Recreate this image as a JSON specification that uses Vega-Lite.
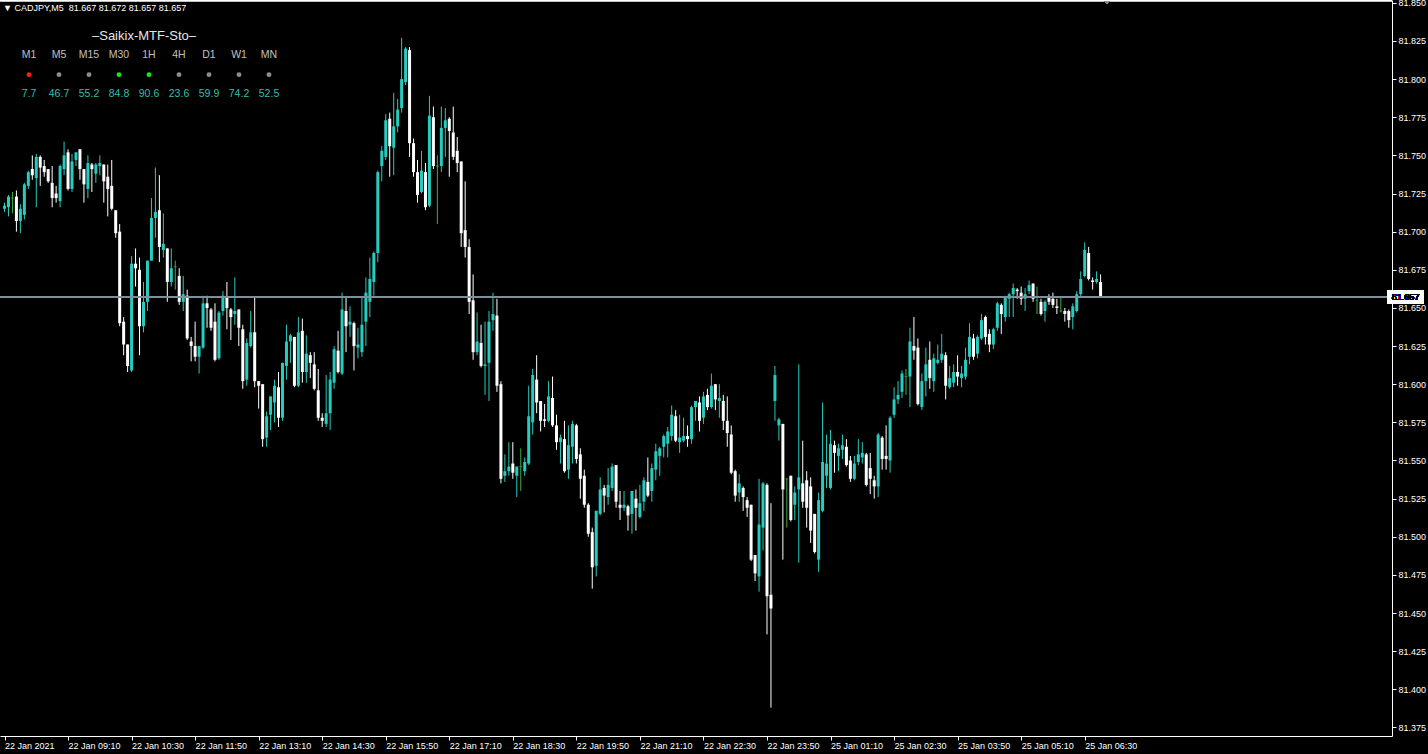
{
"$schema":"https://vega.github.io/schema/vega-lite/v6.json",
"width":1392,"height":736,"autosize":{"type":"none"},"padding":{"left":0,"top":0,"right":36,"bottom":18},
"background":"#000000","view":{"stroke":null},
"config":{"font":"Liberation Sans","axis":{"grid":false,"labelOverlap":false,"labelSeparation":0}},
"title":{"text":"▼ CADJPY,M5\u00a0\u00a081.667 81.672 81.657 81.657","anchor":"start","frame":"group","orient":"top","offset":-14,"dx":3,"fontSize":9,"fontWeight":"normal","color":"#ffffff","font":"Liberation Sans"},
"datasets":{
"candles":[
{"i":0,"o":81.715,"h":81.719,"l":81.713,"c":81.717},{"i":1,"o":81.716,"h":81.724,"l":81.710,"c":81.723},{"i":2,"o":81.722,"h":81.726,"l":81.712,"c":81.722},{"i":3,"o":81.723,"h":81.727,"l":81.700,"c":81.707},{"i":4,"o":81.707,"h":81.718,"l":81.699,"c":81.715},{"i":5,"o":81.711,"h":81.732,"l":81.708,"c":81.731},{"i":6,"o":81.730,"h":81.740,"l":81.728,"c":81.739},{"i":7,"o":81.741,"h":81.750,"l":81.734,"c":81.737},{"i":8,"o":81.735,"h":81.751,"l":81.716,"c":81.749},{"i":9,"o":81.749,"h":81.750,"l":81.730,"c":81.742},
{"i":10,"o":81.743,"h":81.747,"l":81.736,"c":81.739},{"i":11,"o":81.741,"h":81.741,"l":81.732,"c":81.733},{"i":12,"o":81.732,"h":81.743,"l":81.716,"c":81.722},{"i":13,"o":81.725,"h":81.730,"l":81.719,"c":81.722},{"i":14,"o":81.720,"h":81.744,"l":81.716,"c":81.743},{"i":15,"o":81.741,"h":81.759,"l":81.737,"c":81.750},{"i":16,"o":81.752,"h":81.754,"l":81.727,"c":81.728},{"i":17,"o":81.728,"h":81.751,"l":81.726,"c":81.746},{"i":18,"o":81.747,"h":81.752,"l":81.743,"c":81.752},{"i":19,"o":81.754,"h":81.754,"l":81.734,"c":81.741},
{"i":20,"o":81.741,"h":81.741,"l":81.719,"c":81.731},{"i":21,"o":81.728,"h":81.750,"l":81.722,"c":81.745},{"i":22,"o":81.744,"h":81.745,"l":81.726,"c":81.741},{"i":23,"o":81.738,"h":81.745,"l":81.732,"c":81.744},{"i":24,"o":81.743,"h":81.750,"l":81.737,"c":81.745},{"i":25,"o":81.744,"h":81.744,"l":81.719,"c":81.733},{"i":26,"o":81.736,"h":81.744,"l":81.710,"c":81.728},{"i":27,"o":81.730,"h":81.747,"l":81.714,"c":81.715},{"i":28,"o":81.714,"h":81.714,"l":81.696,"c":81.699},{"i":29,"o":81.700,"h":81.705,"l":81.638,"c":81.640},
{"i":30,"o":81.641,"h":81.644,"l":81.619,"c":81.626},{"i":31,"o":81.626,"h":81.626,"l":81.608,"c":81.612},{"i":32,"o":81.609,"h":81.684,"l":81.608,"c":81.679},{"i":33,"o":81.679,"h":81.689,"l":81.664,"c":81.676},{"i":34,"o":81.675,"h":81.683,"l":81.619,"c":81.638},{"i":35,"o":81.638,"h":81.667,"l":81.634,"c":81.654},{"i":36,"o":81.654,"h":81.681,"l":81.648,"c":81.681},{"i":37,"o":81.681,"h":81.722,"l":81.681,"c":81.709},{"i":38,"o":81.709,"h":81.742,"l":81.696,"c":81.713},{"i":39,"o":81.714,"h":81.737,"l":81.680,"c":81.690},
{"i":40,"o":81.688,"h":81.712,"l":81.683,"c":81.692},{"i":41,"o":81.689,"h":81.689,"l":81.654,"c":81.667},{"i":42,"o":81.667,"h":81.689,"l":81.664,"c":81.676},{"i":43,"o":81.677,"h":81.681,"l":81.662,"c":81.677},{"i":44,"o":81.671,"h":81.676,"l":81.652,"c":81.654},{"i":45,"o":81.654,"h":81.671,"l":81.648,"c":81.659},{"i":46,"o":81.658,"h":81.662,"l":81.629,"c":81.630},{"i":47,"o":81.628,"h":81.631,"l":81.615,"c":81.625},{"i":48,"o":81.625,"h":81.641,"l":81.615,"c":81.618},{"i":49,"o":81.618,"h":81.625,"l":81.607,"c":81.625},
{"i":50,"o":81.624,"h":81.658,"l":81.623,"c":81.653},{"i":51,"o":81.653,"h":81.658,"l":81.637,"c":81.650},{"i":52,"o":81.649,"h":81.650,"l":81.635,"c":81.637},{"i":53,"o":81.641,"h":81.653,"l":81.615,"c":81.616},{"i":54,"o":81.617,"h":81.648,"l":81.616,"c":81.647},{"i":55,"o":81.648,"h":81.661,"l":81.645,"c":81.658},{"i":56,"o":81.657,"h":81.667,"l":81.636,"c":81.650},{"i":57,"o":81.649,"h":81.650,"l":81.629,"c":81.644},{"i":58,"o":81.646,"h":81.670,"l":81.639,"c":81.648},{"i":59,"o":81.649,"h":81.649,"l":81.625,"c":81.637},
{"i":60,"o":81.636,"h":81.639,"l":81.597,"c":81.602},{"i":61,"o":81.603,"h":81.630,"l":81.599,"c":81.627},{"i":62,"o":81.625,"h":81.648,"l":81.624,"c":81.634},{"i":63,"o":81.634,"h":81.657,"l":81.598,"c":81.602},{"i":64,"o":81.602,"h":81.602,"l":81.584,"c":81.599},{"i":65,"o":81.600,"h":81.600,"l":81.559,"c":81.564},{"i":66,"o":81.565,"h":81.582,"l":81.559,"c":81.579},{"i":67,"o":81.580,"h":81.592,"l":81.570,"c":81.592},{"i":68,"o":81.588,"h":81.603,"l":81.575,"c":81.599},{"i":69,"o":81.598,"h":81.608,"l":81.572,"c":81.578},
{"i":70,"o":81.578,"h":81.614,"l":81.576,"c":81.614},{"i":71,"o":81.612,"h":81.639,"l":81.603,"c":81.628},{"i":72,"o":81.628,"h":81.633,"l":81.614,"c":81.632},{"i":73,"o":81.631,"h":81.631,"l":81.598,"c":81.599},{"i":74,"o":81.599,"h":81.644,"l":81.598,"c":81.634},{"i":75,"o":81.635,"h":81.643,"l":81.601,"c":81.608},{"i":76,"o":81.608,"h":81.632,"l":81.601,"c":81.620},{"i":77,"o":81.619,"h":81.621,"l":81.604,"c":81.614},{"i":78,"o":81.613,"h":81.621,"l":81.596,"c":81.597},{"i":79,"o":81.596,"h":81.610,"l":81.576,"c":81.578},
{"i":80,"o":81.578,"h":81.581,"l":81.572,"c":81.576},{"i":81,"o":81.574,"h":81.606,"l":81.572,"c":81.581},{"i":82,"o":81.581,"h":81.608,"l":81.570,"c":81.603},{"i":83,"o":81.601,"h":81.625,"l":81.597,"c":81.623},{"i":84,"o":81.622,"h":81.635,"l":81.607,"c":81.608},{"i":85,"o":81.607,"h":81.660,"l":81.606,"c":81.649},{"i":86,"o":81.648,"h":81.657,"l":81.621,"c":81.638},{"i":87,"o":81.639,"h":81.651,"l":81.631,"c":81.641},{"i":88,"o":81.640,"h":81.641,"l":81.609,"c":81.625},{"i":89,"o":81.624,"h":81.637,"l":81.617,"c":81.626},
{"i":90,"o":81.621,"h":81.657,"l":81.618,"c":81.639},{"i":91,"o":81.641,"h":81.670,"l":81.625,"c":81.660},{"i":92,"o":81.654,"h":81.683,"l":81.644,"c":81.669},{"i":93,"o":81.667,"h":81.687,"l":81.658,"c":81.686},{"i":94,"o":81.686,"h":81.740,"l":81.680,"c":81.739},{"i":95,"o":81.743,"h":81.756,"l":81.733,"c":81.753},{"i":96,"o":81.749,"h":81.777,"l":81.747,"c":81.773},{"i":97,"o":81.774,"h":81.778,"l":81.736,"c":81.756},{"i":98,"o":81.755,"h":81.791,"l":81.737,"c":81.769},{"i":99,"o":81.769,"h":81.787,"l":81.765,"c":81.780},
{"i":100,"o":81.781,"h":81.827,"l":81.778,"c":81.800},{"i":101,"o":81.798,"h":81.821,"l":81.796,"c":81.820},{"i":102,"o":81.819,"h":81.821,"l":81.749,"c":81.758},{"i":103,"o":81.758,"h":81.761,"l":81.736,"c":81.739},{"i":104,"o":81.739,"h":81.747,"l":81.719,"c":81.724},{"i":105,"o":81.726,"h":81.753,"l":81.725,"c":81.740},{"i":106,"o":81.739,"h":81.745,"l":81.714,"c":81.716},{"i":107,"o":81.717,"h":81.789,"l":81.716,"c":81.776},{"i":108,"o":81.775,"h":81.782,"l":81.741,"c":81.743},{"i":109,"o":81.743,"h":81.750,"l":81.705,"c":81.743},
{"i":110,"o":81.743,"h":81.782,"l":81.739,"c":81.768},{"i":111,"o":81.768,"h":81.781,"l":81.749,"c":81.773},{"i":112,"o":81.774,"h":81.775,"l":81.736,"c":81.766},{"i":113,"o":81.765,"h":81.782,"l":81.747,"c":81.749},{"i":114,"o":81.753,"h":81.762,"l":81.739,"c":81.745},{"i":115,"o":81.746,"h":81.746,"l":81.690,"c":81.699},{"i":116,"o":81.701,"h":81.733,"l":81.683,"c":81.690},{"i":117,"o":81.690,"h":81.695,"l":81.646,"c":81.654},{"i":118,"o":81.655,"h":81.672,"l":81.616,"c":81.621},{"i":119,"o":81.621,"h":81.647,"l":81.619,"c":81.628},
{"i":120,"o":81.627,"h":81.639,"l":81.611,"c":81.612},{"i":121,"o":81.612,"h":81.641,"l":81.593,"c":81.613},{"i":122,"o":81.614,"h":81.648,"l":81.589,"c":81.641},{"i":123,"o":81.642,"h":81.660,"l":81.635,"c":81.646},{"i":124,"o":81.645,"h":81.656,"l":81.595,"c":81.599},{"i":125,"o":81.600,"h":81.602,"l":81.535,"c":81.538},{"i":126,"o":81.540,"h":81.554,"l":81.536,"c":81.543},{"i":127,"o":81.543,"h":81.562,"l":81.540,"c":81.546},{"i":128,"o":81.548,"h":81.562,"l":81.538,"c":81.542},{"i":129,"o":81.540,"h":81.546,"l":81.526,"c":81.546},
{"i":130,"o":81.546,"h":81.558,"l":81.530,"c":81.546},{"i":131,"o":81.543,"h":81.552,"l":81.540,"c":81.549},{"i":132,"o":81.548,"h":81.599,"l":81.547,"c":81.579},{"i":133,"o":81.575,"h":81.610,"l":81.567,"c":81.606},{"i":134,"o":81.603,"h":81.619,"l":81.581,"c":81.588},{"i":135,"o":81.589,"h":81.589,"l":81.569,"c":81.576},{"i":136,"o":81.577,"h":81.587,"l":81.572,"c":81.576},{"i":137,"o":81.576,"h":81.602,"l":81.575,"c":81.592},{"i":138,"o":81.591,"h":81.605,"l":81.572,"c":81.573},{"i":139,"o":81.573,"h":81.580,"l":81.557,"c":81.562},
{"i":140,"o":81.562,"h":81.567,"l":81.548,"c":81.565},{"i":141,"o":81.564,"h":81.576,"l":81.542,"c":81.543},{"i":142,"o":81.544,"h":81.573,"l":81.538,"c":81.560},{"i":143,"o":81.559,"h":81.576,"l":81.548,"c":81.574},{"i":144,"o":81.573,"h":81.574,"l":81.548,"c":81.551},{"i":145,"o":81.554,"h":81.558,"l":81.525,"c":81.538},{"i":146,"o":81.540,"h":81.544,"l":81.519,"c":81.521},{"i":147,"o":81.521,"h":81.522,"l":81.500,"c":81.502},{"i":148,"o":81.503,"h":81.506,"l":81.466,"c":81.480},{"i":149,"o":81.481,"h":81.517,"l":81.474,"c":81.517},
{"i":150,"o":81.515,"h":81.539,"l":81.514,"c":81.531},{"i":151,"o":81.532,"h":81.534,"l":81.516,"c":81.527},{"i":152,"o":81.526,"h":81.545,"l":81.521,"c":81.534},{"i":153,"o":81.532,"h":81.548,"l":81.530,"c":81.546},{"i":154,"o":81.547,"h":81.547,"l":81.519,"c":81.523},{"i":155,"o":81.521,"h":81.530,"l":81.511,"c":81.519},{"i":156,"o":81.519,"h":81.530,"l":81.517,"c":81.521},{"i":157,"o":81.520,"h":81.521,"l":81.504,"c":81.514},{"i":158,"o":81.515,"h":81.530,"l":81.502,"c":81.530},{"i":159,"o":81.525,"h":81.531,"l":81.504,"c":81.519},
{"i":160,"o":81.513,"h":81.534,"l":81.512,"c":81.522},{"i":161,"o":81.523,"h":81.539,"l":81.517,"c":81.537},{"i":162,"o":81.536,"h":81.552,"l":81.526,"c":81.527},{"i":163,"o":81.530,"h":81.548,"l":81.523,"c":81.545},{"i":164,"o":81.544,"h":81.561,"l":81.537,"c":81.556},{"i":165,"o":81.553,"h":81.559,"l":81.540,"c":81.558},{"i":166,"o":81.559,"h":81.567,"l":81.552,"c":81.566},{"i":167,"o":81.561,"h":81.572,"l":81.552,"c":81.569},{"i":168,"o":81.566,"h":81.586,"l":81.563,"c":81.580},{"i":169,"o":81.579,"h":81.583,"l":81.562,"c":81.563},
{"i":170,"o":81.562,"h":81.580,"l":81.555,"c":81.565},{"i":171,"o":81.563,"h":81.578,"l":81.562,"c":81.566},{"i":172,"o":81.566,"h":81.573,"l":81.559,"c":81.564},{"i":173,"o":81.564,"h":81.586,"l":81.561,"c":81.585},{"i":174,"o":81.585,"h":81.589,"l":81.576,"c":81.589},{"i":175,"o":81.588,"h":81.592,"l":81.569,"c":81.576},{"i":176,"o":81.578,"h":81.595,"l":81.574,"c":81.592},{"i":177,"o":81.593,"h":81.597,"l":81.583,"c":81.585},{"i":178,"o":81.585,"h":81.607,"l":81.584,"c":81.599},{"i":179,"o":81.600,"h":81.600,"l":81.583,"c":81.590},
{"i":180,"o":81.589,"h":81.600,"l":81.578,"c":81.591},{"i":181,"o":81.589,"h":81.593,"l":81.570,"c":81.576},{"i":182,"o":81.576,"h":81.592,"l":81.559,"c":81.568},{"i":183,"o":81.567,"h":81.573,"l":81.541,"c":81.542},{"i":184,"o":81.543,"h":81.544,"l":81.523,"c":81.527},{"i":185,"o":81.529,"h":81.541,"l":81.523,"c":81.535},{"i":186,"o":81.532,"h":81.533,"l":81.517,"c":81.526},{"i":187,"o":81.524,"h":81.526,"l":81.513,"c":81.519},{"i":188,"o":81.521,"h":81.521,"l":81.484,"c":81.485},{"i":189,"o":81.488,"h":81.488,"l":81.471,"c":81.476},
{"i":190,"o":81.474,"h":81.538,"l":81.464,"c":81.508},{"i":191,"o":81.506,"h":81.536,"l":81.491,"c":81.535},{"i":192,"o":81.534,"h":81.535,"l":81.436,"c":81.461},{"i":193,"o":81.462,"h":81.522,"l":81.388,"c":81.453},{"i":194,"o":81.589,"h":81.612,"l":81.576,"c":81.606},{"i":195,"o":81.573,"h":81.578,"l":81.563,"c":81.577},{"i":196,"o":81.574,"h":81.574,"l":81.485,"c":81.531},{"i":197,"o":81.538,"h":81.538,"l":81.506,"c":81.538},{"i":198,"o":81.540,"h":81.540,"l":81.510,"c":81.511},{"i":199,"o":81.521,"h":81.533,"l":81.511,"c":81.529},
{"i":200,"o":81.531,"h":81.613,"l":81.483,"c":81.539},{"i":201,"o":81.535,"h":81.563,"l":81.519,"c":81.523},{"i":202,"o":81.537,"h":81.543,"l":81.506,"c":81.519},{"i":203,"o":81.533,"h":81.539,"l":81.496,"c":81.504},{"i":204,"o":81.515,"h":81.515,"l":81.489,"c":81.490},{"i":205,"o":81.485,"h":81.529,"l":81.477,"c":81.524},{"i":206,"o":81.517,"h":81.588,"l":81.516,"c":81.549},{"i":207,"o":81.540,"h":81.567,"l":81.532,"c":81.548},{"i":208,"o":81.532,"h":81.570,"l":81.531,"c":81.561},{"i":209,"o":81.560,"h":81.563,"l":81.542,"c":81.555},
{"i":210,"o":81.553,"h":81.561,"l":81.543,"c":81.558},{"i":211,"o":81.557,"h":81.567,"l":81.551,"c":81.560},{"i":212,"o":81.559,"h":81.564,"l":81.546,"c":81.547},{"i":213,"o":81.550,"h":81.553,"l":81.536,"c":81.538},{"i":214,"o":81.538,"h":81.553,"l":81.537,"c":81.548},{"i":215,"o":81.549,"h":81.564,"l":81.547,"c":81.554},{"i":216,"o":81.552,"h":81.562,"l":81.548,"c":81.555},{"i":217,"o":81.554,"h":81.555,"l":81.533,"c":81.534},{"i":218,"o":81.545,"h":81.555,"l":81.528,"c":81.538},{"i":219,"o":81.537,"h":81.540,"l":81.525,"c":81.533},
{"i":220,"o":81.533,"h":81.568,"l":81.526,"c":81.567},{"i":221,"o":81.565,"h":81.566,"l":81.544,"c":81.551},{"i":222,"o":81.553,"h":81.573,"l":81.544,"c":81.551},{"i":223,"o":81.550,"h":81.579,"l":81.542,"c":81.578},{"i":224,"o":81.580,"h":81.598,"l":81.578,"c":81.590},{"i":225,"o":81.590,"h":81.602,"l":81.587,"c":81.593},{"i":226,"o":81.595,"h":81.609,"l":81.591,"c":81.607},{"i":227,"o":81.605,"h":81.610,"l":81.593,"c":81.605},{"i":228,"o":81.605,"h":81.637,"l":81.585,"c":81.628},{"i":229,"o":81.625,"h":81.644,"l":81.616,"c":81.622},
{"i":230,"o":81.624,"h":81.630,"l":81.586,"c":81.587},{"i":231,"o":81.585,"h":81.607,"l":81.583,"c":81.602},{"i":232,"o":81.602,"h":81.624,"l":81.592,"c":81.613},{"i":233,"o":81.616,"h":81.628,"l":81.597,"c":81.604},{"i":234,"o":81.602,"h":81.620,"l":81.595,"c":81.617},{"i":235,"o":81.614,"h":81.626,"l":81.613,"c":81.616},{"i":236,"o":81.616,"h":81.633,"l":81.614,"c":81.620},{"i":237,"o":81.619,"h":81.621,"l":81.590,"c":81.599},{"i":238,"o":81.598,"h":81.612,"l":81.597,"c":81.604},{"i":239,"o":81.601,"h":81.613,"l":81.598,"c":81.608},
{"i":240,"o":81.608,"h":81.619,"l":81.599,"c":81.605},{"i":241,"o":81.604,"h":81.612,"l":81.598,"c":81.607},{"i":242,"o":81.605,"h":81.624,"l":81.603,"c":81.616},{"i":243,"o":81.618,"h":81.640,"l":81.613,"c":81.631},{"i":244,"o":81.630,"h":81.633,"l":81.616,"c":81.618},{"i":245,"o":81.620,"h":81.632,"l":81.617,"c":81.631},{"i":246,"o":81.630,"h":81.646,"l":81.629,"c":81.642},{"i":247,"o":81.644,"h":81.645,"l":81.626,"c":81.631},{"i":248,"o":81.633,"h":81.636,"l":81.621,"c":81.626},{"i":249,"o":81.626,"h":81.637,"l":81.623,"c":81.636},
{"i":250,"o":81.637,"h":81.654,"l":81.635,"c":81.653},{"i":251,"o":81.652,"h":81.653,"l":81.633,"c":81.646},{"i":252,"o":81.644,"h":81.658,"l":81.641,"c":81.657},{"i":253,"o":81.656,"h":81.660,"l":81.644,"c":81.659},{"i":254,"o":81.659,"h":81.666,"l":81.644,"c":81.663},{"i":255,"o":81.662,"h":81.663,"l":81.656,"c":81.661},{"i":256,"o":81.660,"h":81.664,"l":81.652,"c":81.656},{"i":257,"o":81.656,"h":81.663,"l":81.648,"c":81.659},{"i":258,"o":81.661,"h":81.668,"l":81.659,"c":81.665},{"i":259,"o":81.666,"h":81.666,"l":81.654,"c":81.656},
{"i":260,"o":81.655,"h":81.664,"l":81.646,"c":81.655},{"i":261,"o":81.654,"h":81.656,"l":81.645,"c":81.646},{"i":262,"o":81.648,"h":81.655,"l":81.641,"c":81.654},{"i":263,"o":81.657,"h":81.659,"l":81.652,"c":81.654},{"i":264,"o":81.656,"h":81.660,"l":81.650,"c":81.652},{"i":265,"o":81.651,"h":81.656,"l":81.646,"c":81.650},{"i":266,"o":81.648,"h":81.657,"l":81.647,"c":81.648},{"i":267,"o":81.648,"h":81.650,"l":81.641,"c":81.646},{"i":268,"o":81.648,"h":81.649,"l":81.637,"c":81.642},{"i":269,"o":81.644,"h":81.653,"l":81.636,"c":81.651},
{"i":270,"o":81.648,"h":81.661,"l":81.647,"c":81.659},{"i":271,"o":81.659,"h":81.674,"l":81.657,"c":81.669},{"i":272,"o":81.671,"h":81.693,"l":81.670,"c":81.688},{"i":273,"o":81.686,"h":81.690,"l":81.668,"c":81.669},{"i":274,"o":81.668,"h":81.670,"l":81.662,"c":81.667},{"i":275,"o":81.667,"h":81.674,"l":81.666,"c":81.669},{"i":276,"o":81.667,"h":81.672,"l":81.657,"c":81.657}
],
"mtf":[
{"tf":"M1","v":7.7,"state":"down"},{"tf":"M5","v":46.7,"state":"flat"},{"tf":"M15","v":55.2,"state":"flat"},{"tf":"M30","v":84.8,"state":"up"},{"tf":"1H","v":90.6,"state":"up"},{"tf":"4H","v":23.6,"state":"flat"},{"tf":"D1","v":59.9,"state":"flat"},{"tf":"W1","v":74.2,"state":"flat"},{"tf":"MN","v":52.5,"state":"flat"}
]
},
"layer":[
{"data":{"name":"candles"},
 "layer":[
  {"mark":{"type":"rule","strokeWidth":1,"clip":true},
   "encoding":{
    "x":{"field":"i","type":"quantitative","scale":{"domain":[0.125,348.125],"nice":false,"zero":false},
     "axis":{"orient":"bottom","values":[0,16,32,48,64,80,96,112,128,144,160,176,192,208,224,240,256,272],"tickCount":40,
      "labelExpr":"['22 Jan 2021','22 Jan 09:10','22 Jan 10:30','22 Jan 11:50','22 Jan 13:10','22 Jan 14:30','22 Jan 15:50','22 Jan 17:10','22 Jan 18:30','22 Jan 19:50','22 Jan 21:10','22 Jan 22:30','22 Jan 23:50','25 Jan 01:10','25 Jan 02:30','25 Jan 03:50','25 Jan 05:10','25 Jan 06:30'][round(datum.value/16)]",
      "domainColor":"#ffffff","domainWidth":1,"tickColor":"#ffffff","tickWidth":1,"tickSize":4,"labelColor":"#ffffff","labelFont":"Liberation Sans","labelFontSize":9,"labelAlign":"left","labelBaseline":"top","labelPadding":1,"labelDx":0,"labelOverlap":false,"labelFlush":false,"labelBound":false,"title":null}},
    "y":{"field":"l","type":"quantitative","scale":{"domain":[81.36941,81.85184],"nice":false,"zero":false},
     "axis":{"orient":"right","values":[81.375,81.4,81.425,81.45,81.475,81.5,81.525,81.55,81.575,81.6,81.625,81.65,81.675,81.7,81.725,81.75,81.775,81.8,81.825,81.85],"tickCount":40,
      "labelExpr":"format(datum.value, '.3f')",
      "domainColor":"#ffffff","domainWidth":1,"tickColor":"#ffffff","tickWidth":1,"tickSize":4,"labelColor":"#ffffff","labelFont":"Liberation Sans","labelFontSize":9,"labelPadding":2,"labelOverlap":false,"labelSeparation":0,"labelFlush":false,"labelBound":false,"title":null}},
    "y2":{"field":"h"},
    "color":{"condition":[{"test":"datum.c == datum.o","value":"#3cb043"},{"test":"datum.c > datum.o","value":"#26ccbe"}],"value":"#ffffff"}
   }},
  {"mark":{"type":"bar","width":3,"clip":true},
   "encoding":{
    "x":{"field":"i","type":"quantitative"},
    "y":{"field":"o","type":"quantitative"},
    "y2":{"field":"c"},
    "color":{"condition":[{"test":"datum.c > datum.o","value":"#26ccbe"}],"value":"#ffffff"}
   }},
  {"transform":[{"filter":"datum.c == datum.o"}],
   "mark":{"type":"tick","orient":"horizontal","size":3,"thickness":1,"clip":true,"color":"#3cb043"},
   "encoding":{"x":{"field":"i","type":"quantitative"},"y":{"field":"o","type":"quantitative"}}},
  {"mark":{"type":"rule","color":"#7f909e","strokeWidth":1},
   "encoding":{"y":{"datum":81.657}}},
  {"mark":{"type":"rule","color":"#ffffff","strokeWidth":1},
   "encoding":{"y":{"datum":81.8515}}},
  {"mark":{"type":"point","shape":"M-0.5,-0.25L0.5,-0.25L0,0.25Z","filled":true,"size":100,"color":"#7f8c99","opacity":1},
   "encoding":{"x":{"datum":277.6},"y":{"datum":81.8502}}},
  {"mark":{"type":"rect","color":"#ffffff"},
   "encoding":{"x":{"datum":348.2},"x2":{"datum":357.4},"y":{"datum":81.6612},"y2":{"datum":81.6530}}},
  {"mark":{"type":"text","color":"#000000","font":"Liberation Sans","fontSize":9,"align":"left","baseline":"middle"},
   "encoding":{"x":{"datum":349.3},"y":{"datum":81.6571},"text":{"value":"81.657"}}}
 ]},
{"layer":[
  {"data":{"values":[{"name":"–Saikix-MTF-Sto–"}]},
   "mark":{"type":"text","fontSize":13,"color":"#e6e6e6","dx":-5,"baseline":"middle"},
   "encoding":{
    "x":{"datum":"1H","type":"ordinal","scale":{"type":"point","domain":["M1","M5","M15","M30","1H","4H","D1","W1","MN"],"range":[29,269],"padding":0},"axis":null},
    "y":{"datum":"title","type":"ordinal","scale":{"type":"point","domain":["title","tf","dot","val"],"range":[36,94],"padding":0},"axis":null},
    "text":{"field":"name"}}},
  {"data":{"name":"mtf"},
   "mark":{"type":"text","fontSize":10.5,"color":"#c0c0c0","baseline":"middle"},
   "encoding":{"x":{"field":"tf","type":"ordinal","axis":null},"y":{"datum":"tf","type":"ordinal","axis":null},"text":{"field":"tf"}}},
  {"data":{"name":"mtf"},
   "mark":{"type":"point","filled":true,"size":24,"opacity":1},
   "encoding":{"x":{"field":"tf","type":"ordinal","axis":null},"y":{"datum":"dot","type":"ordinal","axis":null},
    "color":{"field":"state","type":"nominal","scale":{"domain":["down","flat","up"],"range":["#ff1a1a","#8c8c8c","#1ee01e"]},"legend":null}}},
  {"data":{"name":"mtf"},
   "mark":{"type":"text","fontSize":10.5,"color":"#2fbfb0","baseline":"middle"},
   "encoding":{"x":{"field":"tf","type":"ordinal","axis":null},"y":{"datum":"val","type":"ordinal","axis":null},"text":{"field":"v","type":"quantitative","format":".1f"}}}
 ]}
],
"resolve":{"scale":{"x":"independent","y":"independent","color":"independent"}}
}
